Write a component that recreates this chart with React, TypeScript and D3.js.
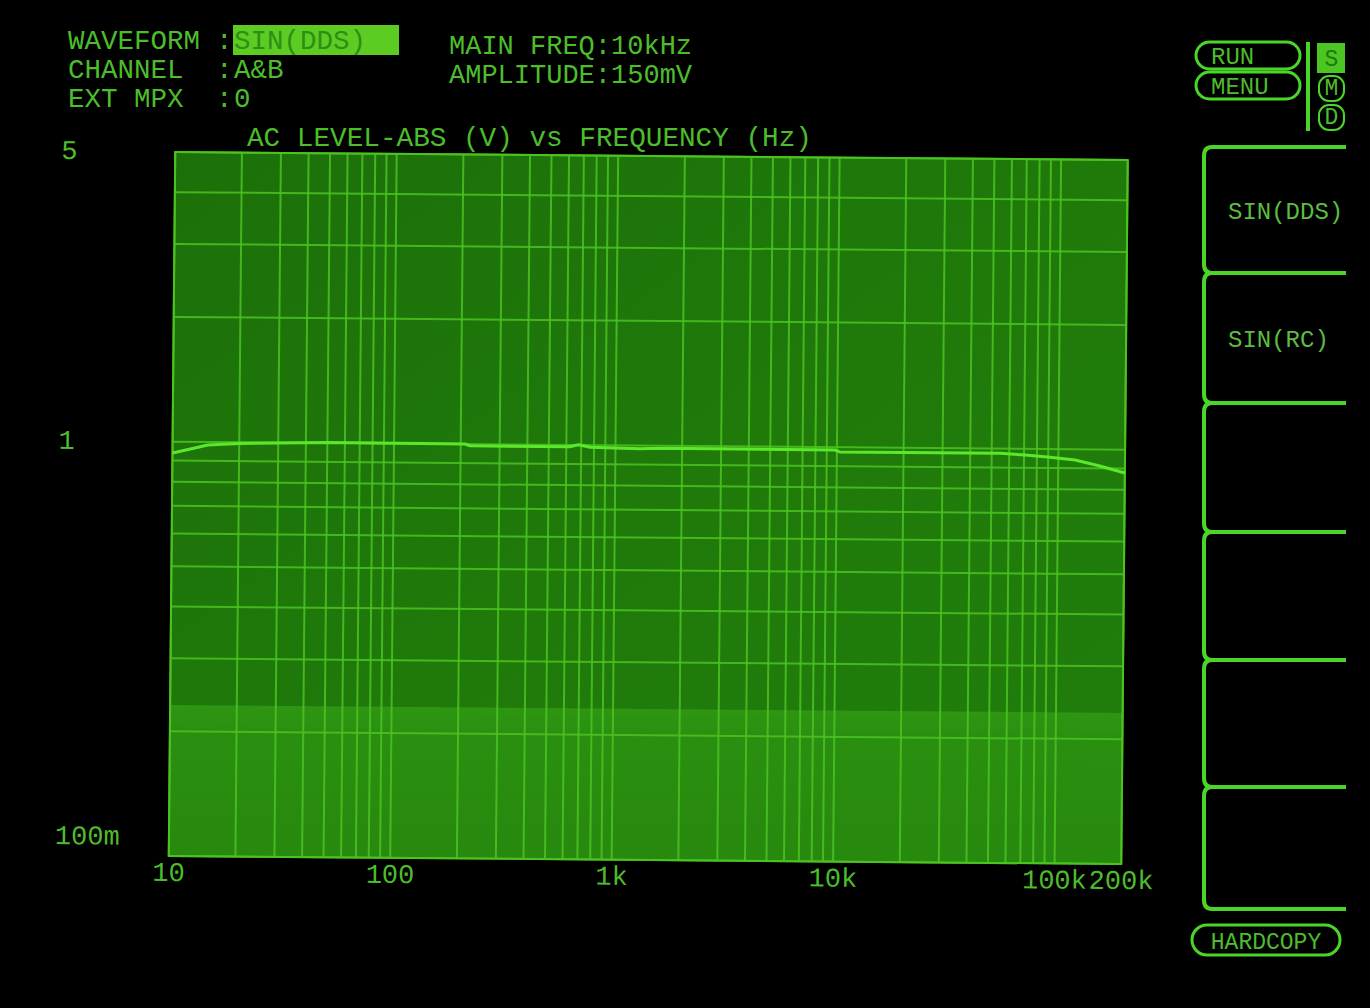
import React from 'react';
import * as d3 from 'd3';

// ---- data ----
const freqHz = [10, 12.6, 14.4, 20, 51, 210, 220, 620, 680, 770, 1290, 1640, 9800, 10300, 54600, 70800, 91800, 119000, 154000, 200000];
const levelV = [0.939, 0.966, 0.983, 0.993, 1.003, 1.0, 0.991, 0.99, 1.002, 0.988, 0.982, 0.986, 0.984, 0.974, 0.974, 0.966, 0.955, 0.942, 0.912, 0.878];
const xTickValues = [10, 100, 1000, 10000, 100000, 200000];
const xTickLabels = ['10', '100', '1k', '10k', '100k', '200k'];
const yTickValues = [5, 1, 0.1];
const yTickLabels = ['5', '1', '100m'];
const headerLabels = ['WAVEFORM', 'CHANNEL', 'EXT MPX'];
const headerValues = ['SIN(DDS)', 'A&B', '0'];
const mainInfo = ['MAIN FREQ:10kHz', 'AMPLITUDE:150mV'];
const softKeys = ['SIN(DDS)', 'SIN(RC)', '', '', '', ''];
const modeKeys = ['S', 'M', 'D'];
const runKeys = ['RUN', 'MENU'];
const chartTitle = 'AC LEVEL-ABS (V) vs FREQUENCY (Hz)';

const W = 952.5;
const H = 704;
const FONT = '"Liberation Mono", "DejaVu Sans Mono", monospace';
const TXT = '#4dbd2c';
const GRID = '#4cc322';
const PANEL = '#4ad628';

function T(props: { x: number; y: number; size: number; fill?: string; anchor?: string; children: React.ReactNode }) {
  const { x, y, size, fill = TXT, anchor = 'start', children } = props;
  return (
    <text x={x} y={y} fontFamily={FONT} fontSize={size} fill={fill} textAnchor={anchor}>
      {children}
    </text>
  );
}

export default function App() {
  const x = d3.scaleLog().domain([10, 200000]).range([0, W]);
  const y = d3.scaleLog().domain([0.1, 5]).range([H, 0]);

  const xGrid: number[] = [];
  [10, 100, 1000, 10000, 100000].forEach((d) => {
    for (let k = 1; k <= 9; k++) if (k * d <= 200000) xGrid.push(k * d);
  });
  const yGrid: number[] = [];
  [0.1, 1].forEach((d) => {
    for (let k = 1; k <= 9; k++) if (k * d <= 5.0001) yGrid.push(+(k * d).toFixed(2));
  });

  const pts = freqHz.map((f, i) => [f, levelV[i]] as [number, number]);
  const line = d3.line<[number, number]>().x((d) => x(d[0])).y((d) => y(d[1]));

  const keyTops = [147, 273, 403, 532, 660, 787];
  const keyBottom = 909;

  return (
    <svg width={1370} height={1008} style={{ position: 'absolute', left: 0, top: 0, background: '#000' }}>
      <defs>
        <linearGradient id="band" x1="0" y1="0" x2="0" y2="1">
          <stop offset="0" stopColor="#2e9612" />
          <stop offset="0.18" stopColor="#2a8f10" />
          <stop offset="1" stopColor="#27890e" />
        </linearGradient>
        <linearGradient id="plotbg" x1="0" y1="0" x2="1" y2="1">
          <stop offset="0" stopColor="#1c7009" />
          <stop offset="0.5" stopColor="#1f7a0a" />
          <stop offset="1" stopColor="#217e0b" />
        </linearGradient>
      </defs>
      <rect x={0} y={0} width={1370} height={1008} fill="#000" />

      {/* header */}
      {headerLabels.map((t, i) => (
        <T key={t} x={68} y={49 + i * 29} size={27.5}>{t}</T>
      ))}
      <rect x={233} y={25} width={166} height={30} fill="#5ccc22" />
      {headerValues.map((t, i) => (
        <g key={'v' + i}>
          <T x={216} y={49 + i * 29} size={27.5}>:</T>
          <T x={234} y={49 + i * 29} size={27.5} fill={i === 0 ? '#2b8f14' : TXT}>{t}</T>
        </g>
      ))}
      {mainInfo.map((t, i) => (
        <T key={t} x={449} y={54 + i * 29} size={27}>{t}</T>
      ))}
      <T x={247} y={146} size={27.7}>{chartTitle}</T>

      {/* plot */}
      <g transform={`matrix(1, 0.0084, -0.00923, 1, 175.25, 152)`}>
        <rect x={0} y={0} width={W} height={H} fill="url(#plotbg)" />
        <rect x={0} y={553} width={W} height={H - 553} fill="url(#band)" />
        {xGrid.map((v) => (
          <line key={'x' + v} x1={x(v)} x2={x(v)} y1={0} y2={H} stroke={GRID} strokeWidth={2} opacity={0.85} />
        ))}
        {yGrid.map((v) => (
          <line key={'y' + v} x1={0} x2={W} y1={y(v)} y2={y(v)} stroke={GRID} strokeWidth={2} opacity={0.85} />
        ))}
        <rect x={0} y={0} width={W} height={H} fill="none" stroke={GRID} strokeWidth={2} />
        <path d={line(pts) || ''} fill="none" stroke="#5ce82a" strokeWidth={3} strokeLinejoin="round" />
        {xTickValues.map((v, i) => (
          <T key={'xt' + v} x={x(v)} y={H + 25} size={27} anchor="middle">{xTickLabels[i]}</T>
        ))}
        {yTickValues.map((v, i) => (
          <T key={'yt' + v} x={-114} y={y(v) + (v <= 0.1 ? -11 : 8)} size={27}>{yTickLabels[i]}</T>
        ))}
      </g>

      {/* run / menu pills */}
      <g fill="none" stroke={PANEL} strokeWidth={3}>
        {runKeys.map((t, i) => (
          <rect key={t} x={1196} y={42 + i * 30} width={104} height={27} rx={13.5} />
        ))}
        <line x1={1308} x2={1308} y1={42} y2={131} strokeWidth={4} />
      </g>
      {runKeys.map((t, i) => (
        <T key={t} x={1211} y={64 + i * 30} size={24}>{t}</T>
      ))}
      {modeKeys.map((t, i) => (
        <g key={t}>
          {i === 0 ? (
            <rect x={1317} y={43} width={28} height={30} fill="#4cc622" />
          ) : (
            <rect x={1319} y={47 + i * 29} width={25} height={25} rx={10} fill="none" stroke={PANEL} strokeWidth={2} />
          )}
          <T x={1331.5} y={66 + i * 29} size={23} anchor="middle" fill={i === 0 ? '#1f7a0c' : TXT}>{t}</T>
        </g>
      ))}

      {/* soft keys */}
      <g fill="none" stroke={PANEL} strokeWidth={4} strokeLinejoin="round">
        {softKeys.map((t, i) => {
          const top = keyTops[i];
          const bot = i < softKeys.length - 1 ? keyTops[i + 1] : keyBottom;
          return (
            <path key={'k' + i} d={`M1346,${top} H1212 Q1204,${top} 1204,${top + 9} V${bot - 9} Q1204,${bot} 1212,${bot} H1346`} />
          );
        })}
      </g>
      {softKeys.map((t, i) => {
        const top = keyTops[i];
        const bot = i < softKeys.length - 1 ? keyTops[i + 1] : keyBottom;
        return t ? (
          <T key={'kt' + i} x={1228} y={(top + bot) / 2 + 9} size={24} fill="#5cbd40">{t}</T>
        ) : null;
      })}

      {/* hardcopy */}
      <rect x={1192} y={925} width={148} height={30} rx={15} fill="none" stroke={PANEL} strokeWidth={3} />
      <T x={1266} y={949} size={23} anchor="middle">HARDCOPY</T>
    </svg>
  );
}
